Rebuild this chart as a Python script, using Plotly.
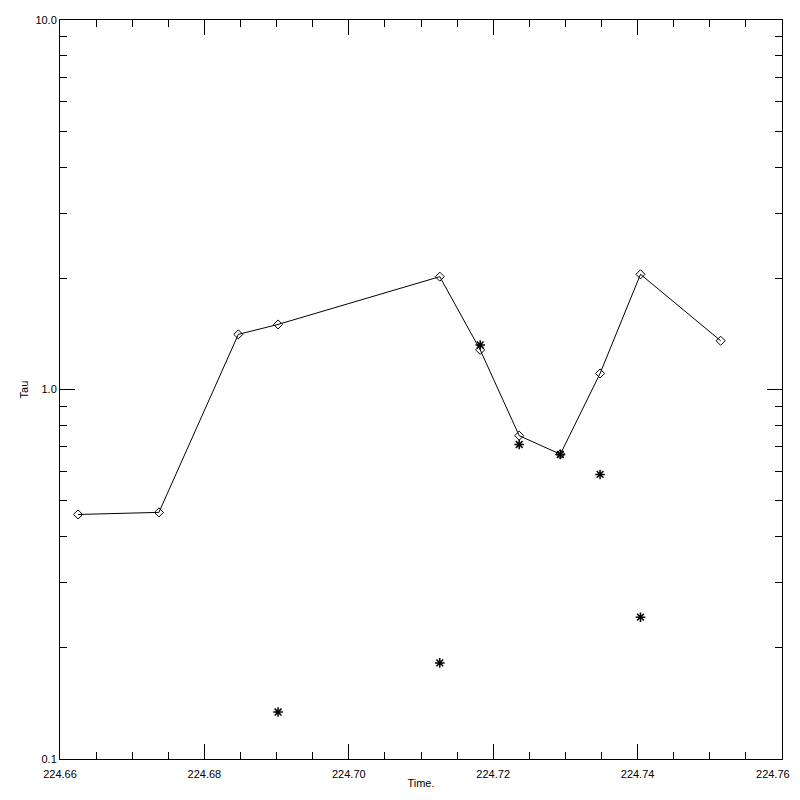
import plotly.graph_objects as go

time_line = [224.6625, 224.6737, 224.6847, 224.6902, 224.7126, 224.7182,
             224.7236, 224.7293, 224.7348, 224.7404, 224.7515]
tau_line = [0.459, 0.465, 1.41, 1.50, 2.02, 1.28, 0.750, 0.668, 1.105, 2.05, 1.355]

time_star = [224.6902, 224.7126, 224.7182, 224.7236, 224.7293, 224.7348, 224.7404]
tau_star = [0.134, 0.182, 1.32, 0.710, 0.667, 0.589, 0.242]

x_ticks = [224.66, 224.68, 224.70, 224.72, 224.74, 224.76]
x_ticktext = ["224.66", "224.68", "224.70", "224.72", "224.74", "224.76"]
y_ticks = [0.1, 1.0, 10.0]
y_ticktext = ["0.1", "1.0", "10.0"]

x_minor = [224.66 + 0.005 * i for i in range(21)]
y_minor = [m * d for d in (0.1, 1.0) for m in range(2, 10)]

# last label padded with non-breaking spaces so it stays inside the visible page
x_labels = x_ticktext[:-1] + [x_ticktext[-1] + "\u00a0" * 6]

fig = go.Figure()
fig.add_trace(go.Scatter(
    x=time_line, y=tau_line, mode="lines+markers",
    line=dict(color="black", width=1),
    marker=dict(symbol="diamond-open", size=7, color="black", line=dict(width=1, color="black")),
    showlegend=False,
))
fig.add_trace(go.Scatter(
    x=time_star, y=tau_star, mode="markers",
    marker=dict(symbol="asterisk-open", size=8, color="black", line=dict(width=1.5, color="black")),
    showlegend=False,
))

font = dict(family="Liberation Sans, Arial, sans-serif", size=11, color="black")
tfont = dict(family="Liberation Sans, Arial, sans-serif", size=11, color="black")

fig.update_layout(
    width=792, height=784,
    margin=dict(l=52, r=18, t=12, b=33),
    paper_bgcolor="white", plot_bgcolor="white",
    font=font,
    xaxis=dict(
        range=[224.66, 224.76], tickmode="array", tickvals=x_ticks, ticktext=x_labels,
        ticks="inside", ticklen=15, tickwidth=1, tickcolor="black",
        showline=True, linecolor="black", linewidth=1, mirror="allticks",
        showgrid=False, zeroline=False, automargin=False, ticklabelstandoff=5,
        ticklabeloverflow="allow",
        minor=dict(tickmode="array", tickvals=x_minor, ticks="inside", ticklen=7,
                   tickwidth=1, tickcolor="black", showgrid=False),
        title=dict(text="Time.", font=tfont, standoff=0),
        tickfont=font,
    ),
    yaxis=dict(
        type="log", range=[-1, 1], tickmode="array", tickvals=y_ticks, ticktext=y_ticktext,
        ticks="inside", ticklen=15, tickwidth=1, tickcolor="black",
        showline=True, linecolor="black", linewidth=1, mirror="allticks",
        showgrid=False, zeroline=False, automargin=False,
        ticklabeloverflow="allow",
        minor=dict(tickmode="array", tickvals=y_minor, ticks="inside", ticklen=7,
                   tickwidth=1, tickcolor="black", showgrid=False),
        title=dict(text="Tau", font=tfont, standoff=4),
        tickfont=font,
    ),
)

fig.write_html("out.html")
